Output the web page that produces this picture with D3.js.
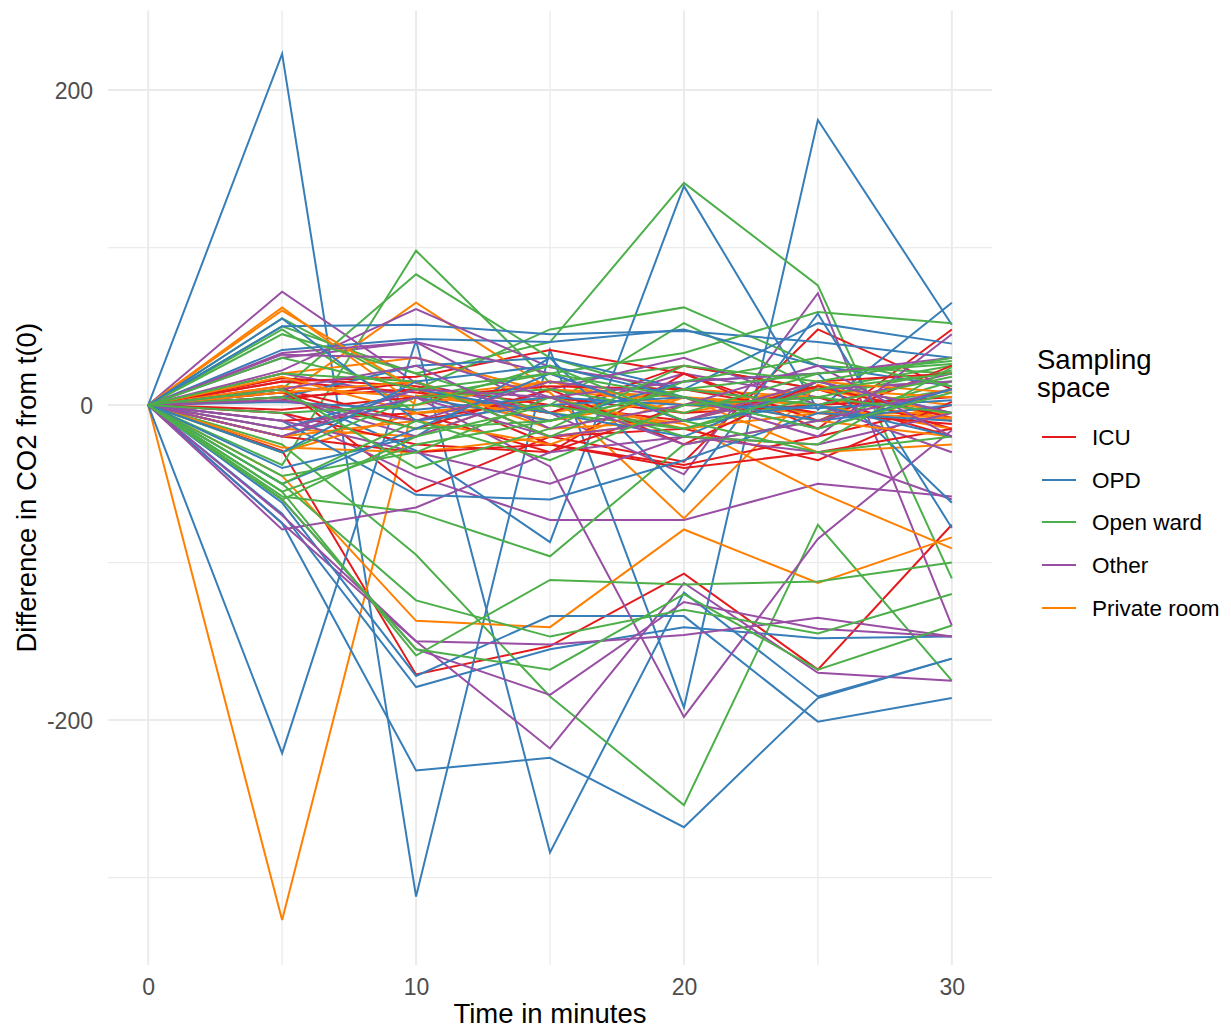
<!DOCTYPE html>
<html>
<head>
<meta charset="utf-8">
<script src="https://cdn.jsdelivr.net/npm/d3@7"></script>
<style>
  body { margin: 0; background: #fff; }
  text { font-family: "Liberation Sans", Arial, sans-serif; }
</style>
</head>
<body>
<svg id="chart" width="1231" height="1030"></svg>
<script>
// ---------- data ----------
const times = [0, 5, 10, 15, 20, 25, 30];
const categories = ["ICU", "OPD", "Open ward", "Other", "Private room"];
const colors = ["#E41A1C", "#377EB8", "#4DAF4A", "#984EA3", "#FF7F00"];
const xTicks = [0, 10, 20, 30];
const yTicks = [-200, 0, 200];

const icuSeries = [
  [0, -29, -171, -153, -107, -168, -76],
  [0, 12, -55, -20, -36, 48, 10],
  [0, 15, 18, 35, 20, -15, 48],
  [0, 5, 10, -25, -38, -20, 0],
  [0, 15, 8, -5, 25, 10, -15],
  [0, -10, -5, -30, 0, 5, -20],
  [0, 3, 15, -20, -15, -35, 2],
  [0, -5, -25, -30, 20, -10, 25],
  [0, 10, -10, 5, -5, 0, 5],
  [0, 17, 12, 0, -10, 12, -8],
  [0, -3, 5, 12, 10, -5, -12],
  [0, -20, -30, -25, -40, -30, -15],
  [0, 8, -15, 10, -25, 15, 20]
];
const opdSeries = [
  [0, 223, -312, 35, -192, 181, 51],
  [0, -221, 41, -284, -119, -185, -161],
  [0, 8, -29, -87, 139, -3, 65],
  [0, -69, -179, -155, -141, -148, -147],
  [0, -75, -232, -224, -268, -186, -161],
  [0, -62, -172, -134, -134, -201, -186],
  [0, 50, 51, 45, 47, 40, 30],
  [0, 35, 42, 40, 48, 25, 12],
  [0, 5, 25, 30, 10, 52, 39],
  [0, -40, -20, 30, -55, 58, -78],
  [0, -20, 5, -10, 15, 20, -62],
  [0, -10, -57, -60, -35, -5, -10],
  [0, 2, -3, 5, 0, -2, 3],
  [0, -15, 10, -5, -20, 15, -5],
  [0, 55, -10, 0, 5, -10, 0],
  [0, -50, -15, 20, -10, 0, -20],
  [0, -30, 15, 25, 5, -15, 10]
];
const openWardSeries = [
  [0, 50, 20, 40, 141, 76, -110],
  [0, -25, -95, -185, -254, -76, -175],
  [0, -38, 98, 14, 25, 10, 15],
  [0, 10, 83, 30, 5, -5, 10],
  [0, 55, 10, 48, 62, 25, 20],
  [0, 48, -5, 0, 52, 10, 25],
  [0, -20, 5, 20, 33, 59, 52],
  [0, -58, -68, -96, -25, -10, 15],
  [0, -55, -159, -111, -114, -112, -100],
  [0, -50, -124, -147, -130, -145, -120],
  [0, -60, -155, -168, -120, -168, -140],
  [0, 45, 20, -5, -15, 5, 22],
  [0, -30, 5, 10, -5, 20, 28],
  [0, 5, -15, -10, 10, 0, 18],
  [0, -45, -30, 5, -20, -25, 24],
  [0, 20, 15, -20, 15, 30, 12],
  [0, -5, 0, 25, -10, -30, -20],
  [0, 10, -40, -15, 25, 15, 30],
  [0, -50, -10, -35, 0, 5, -5],
  [0, -55, -25, -10, 10, 20, 26],
  [0, -60, -20, 0, -15, 10, 20],
  [0, 30, 10, 20, 5, -15, 8]
];
const otherSeries = [
  [0, 72, 14, -5, 20, 5, -10],
  [0, 30, 40, -5, -44, 71, -140],
  [0, -5, -45, -73, -73, -50, -58],
  [0, -75, -150, -218, -113, -170, -175],
  [0, -60, -155, -184, -125, -142, -147],
  [0, 20, 5, -39, -198, -85, -16],
  [0, -70, -150, -152, -146, -135, -147],
  [0, 22, 61, 24, 10, 0, 20],
  [0, -79, -65, -30, -20, -30, -60],
  [0, 5, -20, 10, 30, 0, -30],
  [0, 33, 40, 20, -10, 10, 15],
  [0, -10, -30, -50, -20, -25, -5],
  [0, 32, 30, 5, 15, 20, 30],
  [0, 3, -10, 15, 5, -20, 45],
  [0, -15, 5, -20, -10, 15, -5],
  [0, -20, 10, 5, -25, -10, 10],
  [0, 10, 25, -15, 0, 25, -20]
];
const privateRoomSeries = [
  [0, -327, 6, -5, 10, 5, -10],
  [0, -45, -137, -141, -79, -113, -84],
  [0, 20, 30, 8, -72, 13, -10],
  [0, 5, 65, 10, 0, -5, -5],
  [0, 62, 0, 15, -5, 10, 0],
  [0, -30, -5, 0, -12, -55, -91],
  [0, -15, -20, 10, 5, -30, -25],
  [0, 12, 5, 15, 0, 10, -5],
  [0, -27, -30, -20, -10, 10, 5],
  [0, 60, 10, -10, 5, 0, -15],
  [0, 18, -5, 5, -15, -5, -8],
  [0, -20, -10, -25, 5, -10, -20],
  [0, 8, 15, -15, -10, 15, 8]
];
const seriesByCategory = [icuSeries, opdSeries, openWardSeries, otherSeries, privateRoomSeries];

// ---------- layout ----------
const svg = d3.select("#chart");
const panel = { left: 108, right: 992, top: 10.5, bottom: 965 };

const x = d3.scaleLinear().domain([-1.5, 31.5]).range([panel.left, panel.right]);
const y = d3.scaleLinear().domain([-355.5, 250.5]).range([panel.bottom, panel.top]);
const color = d3.scaleOrdinal().domain(categories).range(colors);

// grid
const g = svg.append("g");
const xMinor = [5, 15, 25], yMinor = [-300, -100, 100];
g.selectAll(".ymin").data(yMinor).enter().append("line")
  .attr("x1", panel.left).attr("x2", panel.right)
  .attr("y1", d => y(d)).attr("y2", d => y(d))
  .attr("stroke", "#EBEBEB").attr("stroke-width", 1.3);
g.selectAll(".xmin").data(xMinor).enter().append("line")
  .attr("y1", panel.top).attr("y2", panel.bottom)
  .attr("x1", d => x(d)).attr("x2", d => x(d))
  .attr("stroke", "#EBEBEB").attr("stroke-width", 1.3);
g.selectAll(".ymaj").data(yTicks).enter().append("line")
  .attr("x1", panel.left).attr("x2", panel.right)
  .attr("y1", d => y(d)).attr("y2", d => y(d))
  .attr("stroke", "#EBEBEB").attr("stroke-width", 2);
g.selectAll(".xmaj").data(xTicks).enter().append("line")
  .attr("y1", panel.top).attr("y2", panel.bottom)
  .attr("x1", d => x(d)).attr("x2", d => x(d))
  .attr("stroke", "#EBEBEB").attr("stroke-width", 2);

// lines (interleaved draw order)
const all = [];
const maxLen = d3.max(seriesByCategory, s => s.length);
for (let i = 0; i < maxLen; i++) {
  seriesByCategory.forEach((s, ci) => {
    if (i < s.length) all.push({ cat: categories[ci], values: s[i] });
  });
}
const line = d3.line().x((d, i) => x(times[i])).y(d => y(d));
svg.append("g").selectAll("path").data(all).enter().append("path")
  .attr("d", d => line(d.values))
  .attr("fill", "none")
  .attr("stroke", d => color(d.cat))
  .attr("stroke-width", 2)
  .attr("stroke-linejoin", "miter");

// axes (text only, like theme_minimal)
const xAxis = d3.axisBottom(x).tickValues(xTicks).tickSize(0).tickPadding(0);
const xa = svg.append("g").attr("transform", `translate(0, ${panel.bottom + 30})`).call(xAxis);
xa.select(".domain").remove();
xa.selectAll("text").attr("fill", "#4D4D4D").style("font-size", "23px")
  .style("font-family", "'Liberation Sans', Arial, sans-serif").attr("dy", "0");

const yAxis = d3.axisLeft(y).tickValues(yTicks).tickSize(0).tickPadding(0).tickFormat(d => String(d));
const ya = svg.append("g").attr("transform", `translate(93, 0)`).call(yAxis);
ya.select(".domain").remove();
ya.selectAll("text").attr("fill", "#4D4D4D").style("font-size", "23px")
  .style("font-family", "'Liberation Sans', Arial, sans-serif").attr("x", 0).attr("dy", "0.35em");

// axis titles
svg.append("text").attr("x", (panel.left + panel.right) / 2).attr("y", 1023)
  .attr("text-anchor", "middle").style("font-size", "27.5px").attr("fill", "#000")
  .text("Time in minutes");
svg.append("text")
  .attr("transform", `translate(36, ${(panel.top + panel.bottom) / 2}) rotate(-90)`)
  .attr("text-anchor", "middle").style("font-size", "27.5px").attr("fill", "#000")
  .text("Difference in CO2 from t(0)");

// legend
const lg = svg.append("g");
lg.append("text").attr("x", 1037).attr("y", 369).style("font-size", "27.5px").text("Sampling");
lg.append("text").attr("x", 1037).attr("y", 397).style("font-size", "27.5px").text("space");
const keyY = [437, 480, 522, 565, 608];
categories.forEach((c, i) => {
  lg.append("line").attr("x1", 1042).attr("x2", 1076)
    .attr("y1", keyY[i]).attr("y2", keyY[i])
    .attr("stroke", color(c)).attr("stroke-width", 2);
  lg.append("text").attr("x", 1092).attr("y", keyY[i]).attr("dy", "0.35em")
    .style("font-size", "22.5px").attr("fill", "#000").text(c);
});
</script>
</body>
</html>
